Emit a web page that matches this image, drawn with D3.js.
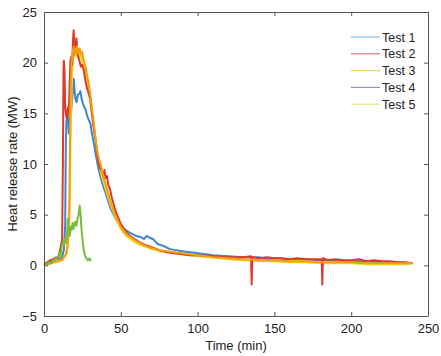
<!DOCTYPE html>
<html><head><meta charset="utf-8">
<script src="https://cdn.jsdelivr.net/npm/d3@7"></script>
<style>body{margin:0;background:#fff;} svg{display:block;font-family:"Liberation Sans",Arial,sans-serif;}</style>
</head><body>
<svg id="c" width="441" height="356"></svg>
<script>
const seriesNames = ["Test 1","Test 2","Test 3","Test 4","Test 5"];
const seriesColors = ["#3d85d0","#e0392a","#f0a010","#76bd3c","#f3d21a"];
const legendColors = ["#8fbde4","#e07a6e","#d9d96a","#9a8cc4","#e9e27a"];
const xTicks = [0,50,100,150,200,250];
const yTicks = [-5,0,5,10,15,20,25];

const test1 = [[0,0.0],[2,0.2],[4,0.3],[6,0.5],[8,0.6],[10,0.7],[11,0.6],[12,0.9],[13,1.6],[13.8,4],[14.2,12],[14.6,14.2],[15.2,15.4],[15.8,14.0],[16.2,13.0],[16.8,14.6],[17.6,15.2],[18.3,16.4],[19,17.6],[19.4,18.4],[19.9,17.2],[20.5,16.4],[21.2,16.1],[22,16.8],[22.8,16.9],[23.7,17.2],[24.5,16.4],[25.3,16.0],[26.2,15.6],[27,15.4],[28,14.8],[29,14.4],[30.2,14.0],[31,13.2],[32,12.4],[33,11.6],[33.6,11.0],[34.6,10.2],[35.5,9.5],[36.7,8.8],[38,8.1],[39,7.6],[40,7.2],[41,6.7],[42,6.2],[43,5.8],[44,5.4],[46,4.8],[48,4.3],[50,3.9],[53,3.5],[56,3.2],[60,2.9],[63,2.8],[65,2.6],[67,2.9],[69,2.7],[71,2.6],[74,2.1],[78,1.9],[82,1.6],[86,1.5],[90,1.4],[95,1.3],[100,1.2],[110,1.0],[120,0.9],[130,0.8],[140,0.8],[146,0.6],[150,0.7],[160,0.6],[170,0.6],[180,0.5],[190,0.5],[200,0.4],[210,0.4],[220,0.3],[230,0.3],[238,0.2]];
const test2 = [[0,0.1],[2,0.3],[4,0.5],[6,0.6],[8,0.8],[9,0.7],[10,1.2],[11,1.9],[11.8,2.6],[12.3,10],[12.7,19.2],[12.9,20.2],[13.3,19.4],[13.8,15.6],[14.4,14.8],[15.1,14.5],[15.6,15.6],[16.1,15.0],[16.6,17.5],[17.2,20.2],[17.8,20.6],[18.4,19.8],[18.9,22.2],[19.3,23.2],[19.8,21.6],[20.4,21.0],[21.1,22.4],[21.7,21.2],[22.4,20.5],[23.2,20.1],[24,19.6],[24.8,19.8],[25.8,19.3],[26.8,18.4],[27.8,17.6],[29,17.0],[30.2,16.4],[31.2,15.0],[32.3,13.6],[33.5,12.4],[34.6,11.0],[35.6,10.0],[36.7,9.5],[37.8,9.3],[38.6,8.8],[39.4,9.4],[40.2,8.6],[41,8.8],[41.8,8.0],[43,7.5],[44,6.8],[45,6.2],[46.5,5.4],[48,4.8],[50,4.1],[52,3.6],[54,3.2],[56,2.9],[58,2.7],[60,2.5],[63,2.2],[66,2.0],[70,1.8],[75,1.5],[80,1.3],[85,1.2],[90,1.1],[95,1.0],[100,1.0],[110,0.9],[120,0.8],[130,0.8],[134.8,0.9],[135.2,-1.9],[135.6,0.8],[140,0.7],[145,0.8],[150,0.7],[155,0.7],[160,0.6],[165,0.7],[170,0.6],[175,0.6],[180.8,0.6],[181.2,-1.9],[181.6,0.7],[185,0.5],[190,0.6],[195,0.5],[200,0.5],[205,0.6],[210,0.4],[215,0.5],[220,0.4],[225,0.4],[230,0.3],[235,0.3],[240,0.2]];
const test3 = [[0,0.0],[3,0.1],[6,0.3],[9,0.4],[12,0.6],[14,1.0],[15.5,2.0],[16.5,6],[17.2,16],[17.8,19.5],[18.5,21.0],[19.4,21.6],[20.2,20.8],[21,21.3],[21.6,21.6],[22.4,20.9],[23.2,21.4],[24,20.8],[24.8,21.1],[25.6,20.4],[26.4,20.0],[27.2,19.5],[28,18.8],[29,18.0],[30,17.0],[31,15.8],[32,14.6],[33,13.3],[34,12.0],[35,11.0],[36,10.4],[37,9.9],[38,9.2],[39,8.6],[40,8.1],[42,7.0],[44,6.0],[46,5.1],[48,4.4],[50,3.8],[53,3.2],[56,2.8],[60,2.4],[65,2.0],[70,1.7],[75,1.5],[80,1.4],[90,1.2],[100,1.0],[110,0.8],[120,0.7],[130,0.6],[140,0.5],[150,0.5],[160,0.4],[170,0.4],[180,0.3],[190,0.3],[200,0.3],[210,0.2],[220,0.2],[230,0.2],[240,0.2]];
const test4 = [[0,0.0],[1.5,0.1],[3,0.3],[4.5,0.2],[6,0.5],[7.5,0.6],[9,0.8],[10,1.2],[10.8,0.9],[11.5,1.8],[12.2,2.3],[13,1.9],[13.6,2.6],[14.3,2.2],[15,3.2],[15.6,4.6],[16.2,3.4],[16.8,2.9],[17.4,3.8],[18,3.5],[18.6,4.2],[19.2,3.6],[19.8,4.0],[20.5,4.3],[21.2,3.9],[21.8,4.6],[22.5,5.0],[23.2,5.9],[23.7,5.2],[24.3,3.8],[25,2.6],[25.8,1.6],[26.6,1.0],[27.5,0.7],[28.5,0.5],[29.5,0.7],[30.5,0.4]];
const test5 = [[0,0.0],[4,0.2],[8,0.3],[12,0.5],[15,1.2],[16.5,4],[17.5,14],[18.3,19],[19,20.5],[20,21.0],[21,20.6],[22,21.0],[23,20.5],[24,20.7],[25,20.0],[26,19.6],[27,19.0],[28,18.2],[29,17.3],[30,16.4],[31,15.3],[32,14.2],[33,13.0],[34,11.8],[35,10.7],[36,9.8],[37,9.2],[38,8.6],[40,7.6],[42,6.6],[44,5.7],[46,4.9],[48,4.2],[50,3.6],[53,3.0],[56,2.6],[60,2.2],[65,1.9],[70,1.6],[75,1.4],[80,1.3],[90,1.1],[100,0.9],[110,0.8],[120,0.6],[130,0.5],[140,0.4],[150,0.4],[160,0.3],[170,0.3],[180,0.2],[190,0.2],[200,0.2],[210,0.1],[220,0.1],[230,0.1],[238,0.1]];

const allSeries = [test1,test2,test3,test4,test5];
const drawOrder = [0,4,1,2,3];

const svg = d3.select("#c");
const L=44, R=428, T=12, B=316;
const x = d3.scaleLinear().domain([0,250]).range([L,R]);
const y = d3.scaleLinear().domain([-5,25]).range([B,T]);

const g = svg.append("g");
const line = d3.line().x(d=>x(d[0])).y(d=>y(d[1]));
drawOrder.forEach(i=>{
  g.append("path").datum(allSeries[i]).attr("d",line)
   .attr("fill","none").attr("stroke",seriesColors[i])
   .attr("stroke-width",2).attr("stroke-linejoin","round");
});

const axCol="#555";
const bx = svg.append("g").attr("transform",`translate(0,${B})`)
  .call(d3.axisBottom(x).tickValues(xTicks).tickSizeInner(-4).tickSizeOuter(0).tickPadding(8).tickFormat(d3.format("d")));
const tx = svg.append("g").attr("transform",`translate(0,${T})`)
  .call(d3.axisTop(x).tickValues(xTicks).tickSizeInner(-4).tickSizeOuter(0).tickFormat(""));
const ly = svg.append("g").attr("transform",`translate(${L},0)`)
  .call(d3.axisLeft(y).tickValues(yTicks).tickSizeInner(-4).tickSizeOuter(0).tickPadding(7).tickFormat(d=>d<0?"\u2212"+Math.abs(d):d));
const ry = svg.append("g").attr("transform",`translate(${R},0)`)
  .call(d3.axisRight(y).tickValues(yTicks).tickSizeInner(-4).tickSizeOuter(0).tickFormat(""));
[bx,tx,ly,ry].forEach(a=>{
  a.select(".domain").attr("stroke",axCol).attr("stroke-width",1);
  a.selectAll(".tick line").attr("stroke",axCol);
  a.selectAll("text").attr("fill","#222").style("font-size","13px").style("font-family","'Liberation Sans',Arial,sans-serif");
});

svg.append("text").attr("x",(L+R)/2).attr("y",350).attr("text-anchor","middle")
  .attr("fill","#222").style("font-size","13px").text("Time (min)");
svg.append("text").attr("transform",`translate(17,${(T+B)/2}) rotate(-90)`).attr("text-anchor","middle")
  .attr("fill","#222").style("font-size","13px").text("Heat release rate (MW)");

const lg = svg.append("g");
seriesNames.forEach((n,i)=>{
  const yy = 37 + i*16.8;
  lg.append("line").attr("x1",351).attr("x2",380).attr("y1",yy).attr("y2",yy)
    .attr("stroke",legendColors[i]).attr("stroke-width",1.2);
  lg.append("text").attr("x",382).attr("y",yy+4.5).attr("fill","#222")
    .style("font-size","12.5px").text(n);
});
</script>
</body></html>
